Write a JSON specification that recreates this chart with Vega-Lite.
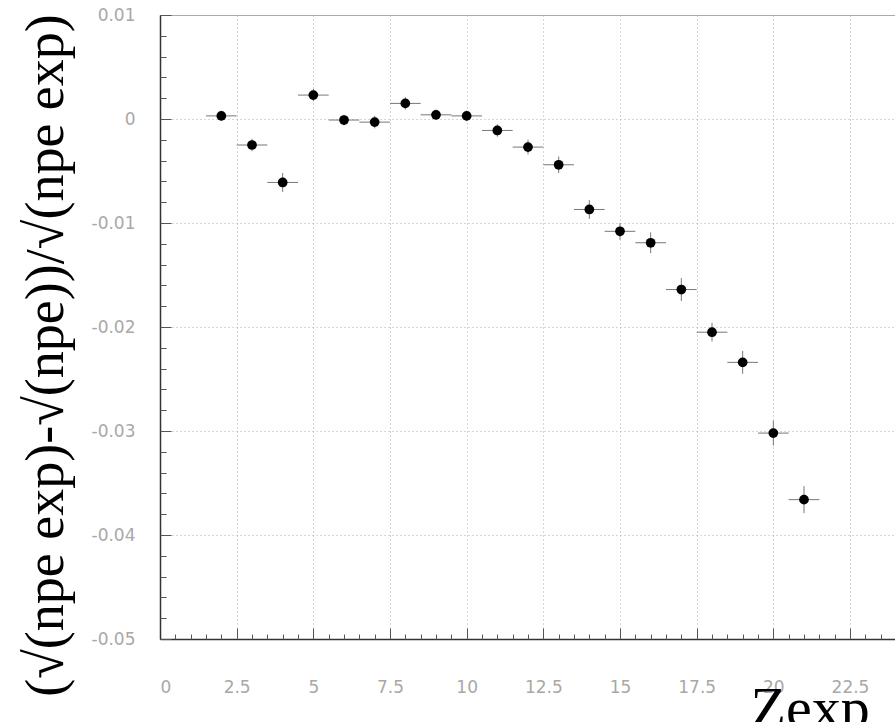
{
  "$schema": "https://vega.github.io/schema/vega-lite/v6.json",
  "width": 736,
  "height": 624,
  "autosize": {"type": "none"},
  "padding": {"left": 160, "top": 15, "right": 0, "bottom": 83},
  "background": "white",
  "config": {
    "view": {"stroke": "#aaa", "strokeWidth": 1},
    "axis": {
      "labelFont": "DejaVu Sans",
      "labelFontSize": 17,
      "labelColor": "#a8a8a8",
      "domainColor": "#333",
      "domainWidth": 1.5,
      "tickColor": "#555",
      "gridColor": "#aaa",
      "gridDash": [1, 3],
      "gridWidth": 1
    }
  },
  "data": {
    "values": [
      {"x": 2, "xlo": 1.5, "xhi": 2.5, "y": 0.0003, "ylo": -0.0002, "yhi": 0.0008},
      {"x": 3, "xlo": 2.5, "xhi": 3.5, "y": -0.0025, "ylo": -0.0031, "yhi": -0.0019},
      {"x": 4, "xlo": 3.5, "xhi": 4.5, "y": -0.0061, "ylo": -0.007, "yhi": -0.0052},
      {"x": 5, "xlo": 4.5, "xhi": 5.5, "y": 0.0023, "ylo": 0.0017, "yhi": 0.0029},
      {"x": 6, "xlo": 5.5, "xhi": 6.5, "y": -0.0001, "ylo": -0.0006, "yhi": 0.0004},
      {"x": 7, "xlo": 6.5, "xhi": 7.5, "y": -0.0003, "ylo": -0.0009, "yhi": 0.0003},
      {"x": 8, "xlo": 7.5, "xhi": 8.5, "y": 0.0015, "ylo": 0.0009, "yhi": 0.0021},
      {"x": 9, "xlo": 8.5, "xhi": 9.5, "y": 0.0004, "ylo": -0.0001, "yhi": 0.0009},
      {"x": 10, "xlo": 9.5, "xhi": 10.5, "y": 0.0003, "ylo": -0.0002, "yhi": 0.0008},
      {"x": 11, "xlo": 10.5, "xhi": 11.5, "y": -0.0011, "ylo": -0.0017, "yhi": -0.0005},
      {"x": 12, "xlo": 11.5, "xhi": 12.5, "y": -0.0027, "ylo": -0.0034, "yhi": -0.002},
      {"x": 13, "xlo": 12.5, "xhi": 13.5, "y": -0.0044, "ylo": -0.0052, "yhi": -0.0036},
      {"x": 14, "xlo": 13.5, "xhi": 14.5, "y": -0.0087, "ylo": -0.0096, "yhi": -0.0078},
      {"x": 15, "xlo": 14.5, "xhi": 15.5, "y": -0.0108, "ylo": -0.0116, "yhi": -0.01},
      {"x": 16, "xlo": 15.5, "xhi": 16.5, "y": -0.0119, "ylo": -0.0129, "yhi": -0.0109},
      {"x": 17, "xlo": 16.5, "xhi": 17.5, "y": -0.0164, "ylo": -0.0175, "yhi": -0.0153},
      {"x": 18, "xlo": 17.5, "xhi": 18.5, "y": -0.0205, "ylo": -0.0214, "yhi": -0.0196},
      {"x": 19, "xlo": 18.5, "xhi": 19.5, "y": -0.0234, "ylo": -0.0245, "yhi": -0.0223},
      {"x": 20, "xlo": 19.5, "xhi": 20.5, "y": -0.0302, "ylo": -0.0314, "yhi": -0.029},
      {"x": 21, "xlo": 20.5, "xhi": 21.5, "y": -0.0366, "ylo": -0.0379, "yhi": -0.0353}
    ]
  },
  "layer": [
    {
      "mark": {"type": "rule", "color": "#777", "strokeWidth": 1},
      "encoding": {
        "x": {
          "field": "xlo", "type": "quantitative",
          "scale": {"domain": [0, 24], "nice": false, "zero": false},
          "axis": {
            "orient": "bottom",
            "title": null,
            "values": [0, 2.5, 5, 7.5, 10, 12.5, 15, 17.5, 20, 22.5],
            "format": ".1~f",
            "ticks": false,
            "labelPadding": 40,
            "grid": true,
            "domain": true
          }
        },
        "x2": {"field": "xhi"},
        "y": {
          "field": "y", "type": "quantitative",
          "scale": {"domain": [-0.05, 0.01], "nice": false, "zero": false},
          "axis": {
            "orient": "left",
            "values": [0.01, 0, -0.01, -0.02, -0.03, -0.04, -0.05],
            "labelExpr": "replace(format(datum.value, '.2~f'), '\u2212', '-')",
            "ticks": false,
            "labelPadding": 25,
            "grid": true,
            "domain": true,
            "title": "(\u221a(npe exp)-\u221a(npe))/\u221a(npe exp)",
            "titleFont": "Liberation Serif",
            "titleFontSize": 54,
            "titleFontWeight": "normal",
            "titleColor": "#000",
            "titleAngle": 270,
            "titleX": -98,
            "titleY": 340,
            "titleAlign": "center",
            "titleBaseline": "alphabetic"
          }
        }
      }
    },
    {
      "mark": {"type": "rule", "color": "#777", "strokeWidth": 1},
      "encoding": {
        "x": {
          "field": "x", "type": "quantitative",
          "axis": {
            "orient": "bottom",
            "title": null,
            "values": [0.5, 1, 1.5, 2, 3, 3.5, 4, 4.5, 5.5, 6, 6.5, 7, 8, 8.5, 9, 9.5, 10.5, 11, 11.5, 12, 13, 13.5, 14, 14.5, 15.5, 16, 16.5, 17, 18, 18.5, 19, 19.5, 20.5, 21, 21.5, 22, 23, 23.5],
            "labels": false,
            "grid": false,
            "domain": false,
            "ticks": true,
            "tickSize": -5
          }
        },
        "y": {
          "field": "ylo", "type": "quantitative",
          "axis": {
            "orient": "left",
            "title": null,
            "values": [0.008, 0.006, 0.004, 0.002, -0.002, -0.004, -0.006, -0.008, -0.012, -0.014, -0.016, -0.018, -0.022, -0.024, -0.026, -0.028, -0.032, -0.034, -0.036, -0.038, -0.042, -0.044, -0.046, -0.048],
            "labels": false,
            "grid": false,
            "domain": false,
            "ticks": true,
            "tickSize": -6
          }
        },
        "y2": {"field": "yhi"}
      }
    },
    {
      "mark": {"type": "point", "filled": true, "color": "#000", "opacity": 1, "size": 95, "shape": "circle"},
      "encoding": {
        "x": {
          "field": "x", "type": "quantitative",
          "axis": {
            "orient": "bottom",
            "values": [0, 2.5, 5, 7.5, 10, 12.5, 15, 17.5, 20, 22.5],
            "labels": false,
            "grid": false,
            "domain": false,
            "ticks": true,
            "tickSize": -11,
            "title": "Zexp",
            "titleFont": "Liberation Serif",
            "titleFontSize": 58,
            "titleFontWeight": "normal",
            "titleColor": "#000",
            "titleX": 590,
            "titleY": 87,
            "titleAlign": "left",
            "titleBaseline": "alphabetic"
          }
        },
        "y": {
          "field": "y", "type": "quantitative",
          "axis": {
            "orient": "left",
            "title": null,
            "values": [0.01, 0, -0.01, -0.02, -0.03, -0.04, -0.05],
            "labels": false,
            "grid": false,
            "domain": false,
            "ticks": true,
            "tickSize": -11
          }
        }
      }
    }
  ],
  "resolve": {
    "scale": {"x": "shared", "y": "shared"},
    "axis": {"x": "independent", "y": "independent"}
  }
}
